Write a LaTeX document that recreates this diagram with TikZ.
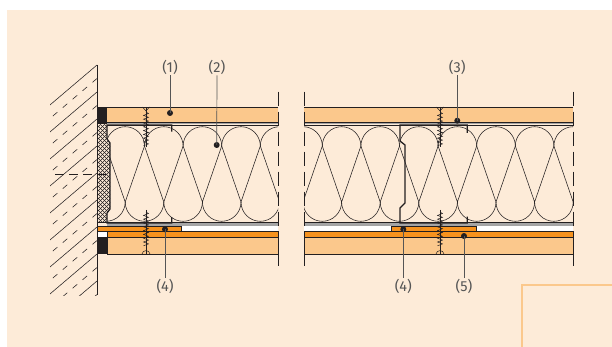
\documentclass[tikz,border=0pt]{standalone}
\usepackage{fontspec}
\setmainfont{Fira Sans}
\definecolor{paper}{RGB}{253,235,216}
\definecolor{board}{RGB}{251,200,140}
\definecolor{strip}{RGB}{246,146,30}
\definecolor{ink}{RGB}{35,31,32}
\definecolor{membrane}{RGB}{165,165,165}
\definecolor{labelgray}{RGB}{85,85,85}
\tikzset{
  layer/.style={draw=ink, line width=0.6pt},
  wool/.style={draw=ink, line width=0.55pt},
  flange/.style={draw=ink, line width=1.3pt, line join=miter},
  leader/.style={draw=labelgray, line width=0.7pt},
  callout/.style={text=labelgray, font=\fontsize{14.5}{16}\selectfont, inner sep=1pt},
  dot/.style={circle, fill=ink, inner sep=0pt, minimum size=6pt},
  breakline/.style={draw=ink, line width=0.7pt, dash pattern=on 14pt off 6pt},
  hatch/.style={draw=ink, line width=0.55pt},
  screwline/.style={draw=ink, line width=0.5pt},
}
% insulation batt symbol: x of first contact point, first and last index
\newcommand\woolrow[3]{%
  \foreach \k in {#2,...,#3}{%
    \pgfmathsetmacro\xa{#1+\k*38.6}%
    \draw[wool] (\xa,146) arc[start angle=180,end angle=360,radius=19.3];
    \draw[wool] (\xa,146) -- (\xa+19.3,202) -- (\xa+38.6,146);
    \draw[wool] (\xa+19.3,202) arc[start angle=180,end angle=0,radius=19.3];
  }}
% screw through the upper board
\newcommand\topscrew[1]{%
  \draw[screwline] (#1-3.5,107) -- (#1,111) -- (#1+3.5,107);
  \draw[screwline] (#1,107) -- (#1,147);
  \draw[screwline] (#1,112) \foreach \t in {0,...,8}{ -- (#1+2.5,113.5+\t*3.8) -- (#1-2.5,115.4+\t*3.8)};
}
% screw through the lower boards
\newcommand\botscrew[1]{%
  \draw[screwline] (#1,210) -- (#1,254);
  \draw[screwline] (#1,212) \foreach \t in {0,...,8}{ -- (#1+2.5,213.5+\t*3.8) -- (#1-2.5,215.4+\t*3.8)};
  \draw[screwline] (#1-4,254) .. controls (#1-3.5,249.5) and (#1+3.5,249.5) .. (#1+4,254);
}
\begin{document}
\begin{tikzpicture}[x=1pt,y=-1pt]
\useasboundingbox (0,0) rectangle (612,347);
\fill[white] (0,0) rectangle (612,347);
\fill[paper] (7,10) rectangle (612,347);
\draw[board, line width=2.5pt] (522,348) -- (522,285) -- (613,285);

% masonry wall
\begin{scope}
  \clip (50,65) rectangle (97,295);
  \foreach \i in {0,...,10}{
    \draw[hatch] (97,65+\i*27) -- ++(-60,51);
    \draw[hatch, dash pattern=on 6pt off 7pt] (97,78.5+\i*27) -- ++(-60,51);
  }
\end{scope}
\draw[ink, line width=0.8pt] (97,65) -- (97,295);

% layered ceiling, two sections
\foreach \a/\b in {107/278,304/573}{
  \fill[board] (\a,107) rectangle (\b,122.6);
  \draw[layer] (\a,107) -- (\b,107) (\a,122.6) -- (\b,122.6);
  \fill[membrane] (\a,122.9) rectangle (\b,124.4);
  \draw[layer] (\a,125) -- (\b,125);
  \draw[layer] (\a,222) -- (\b,222);
  \fill[membrane] (\a,222.5) rectangle (\b,225.8);
  \fill[white] (\a,225.8) rectangle (\b,231.7);
  \filldraw[fill=strip, draw=ink, line width=0.6pt] (\a,231.7) rectangle (\b,237.7);
  \filldraw[fill=board, draw=ink, line width=0.6pt] (\a,237.7) rectangle (\b,254);
}

% mineral wool
\begin{scope}
  \clip (107,125) rectangle (278,222);
  \woolrow{105.9}{-1}{4}
\end{scope}
\begin{scope}
  \clip (304,125) rectangle (573,222);
  \woolrow{322.3}{-1}{6}
\end{scope}

% resilient profiles below the wool
\filldraw[fill=strip, draw=ink, line width=0.6pt] (97,226.5) rectangle (181.7,231.7);
\filldraw[fill=strip, draw=ink, line width=0.6pt] (391.7,226.5) rectangle (476.7,231.7);

% end blocks at the wall
\fill[ink] (97,107) rectangle (107,124.4);
\filldraw[fill=white, draw=ink, line width=0.5pt] (97,231.7) rectangle (107,237.7);
\fill[ink] (97,237.7) rectangle (107,254);

% sealing strip between wall and wall channel
\begin{scope}
  \clip (97,124.4) -- (107,124.4) -- (107,139) -- (110,143) -- (110,209) -- (107,213) -- (107,222) -- (97,222) -- cycle;
  \fill[paper] (90,120) rectangle (115,225);
  \foreach \i in {0,...,36}{
    \draw[ink, line width=0.45pt] (90,110+\i*4) -- ++(25,25);
    \draw[ink, line width=0.45pt] (90,135+\i*4) -- ++(25,-25);
  }
\end{scope}
\draw[ink, line width=0.6pt] (97,124.4) -- (97,222) -- (107,222);

% wall channel
\draw[flange] (171.7,131.7) -- (171.7,125) -- (107,125) -- (107,139) -- (110,143) -- (110,209) -- (107,213) -- (107,223) -- (171.7,223) -- (171.7,217);
% ceiling channel
\draw[flange] (467.3,133) -- (467.3,125) -- (400,125) -- (400,141) -- (405,145) -- (405,203) -- (400,208) -- (400,223) -- (467.3,223) -- (467.3,216.7);

% wall joint line
\draw[ink, line width=0.6pt, dash pattern=on 9pt off 5pt] (55,174) -- (109,174);

% screws
\topscrew{146}
\botscrew{146}
\topscrew{440}
\botscrew{440}

% section breaks
\draw[breakline] (278,91.7) -- (278,271.7);
\draw[breakline] (304,91.7) -- (304,271.7);
\draw[breakline] (573,91.7) -- (573,271.7);

% callouts
\node[callout] (l1) at (170,67) {(1)};
\node[callout] (l2) at (217,67) {(2)};
\node[callout] (l3) at (457.3,67) {(3)};
\node[callout] (l4a) at (165,286) {(4)};
\node[callout] (l4b) at (403.3,286) {(4)};
\node[callout] (l5) at (464,286) {(5)};
\node[dot] (d1) at (170,113) {};
\node[dot] (d2) at (216.7,145) {};
\node[dot] (d3) at (457.3,120.7) {};
\node[dot] (d4a) at (165,229.3) {};
\node[dot] (d4b) at (403.3,229.3) {};
\node[dot] (d5) at (464,236) {};
\draw[leader] (l1.south) -- (d1.center);
\draw[leader] (l2.south) -- (d2.center);
\draw[leader] (l3.south) -- (d3.center);
\draw[leader] (d4a.center) -- (l4a.north);
\draw[leader] (d4b.center) -- (l4b.north);
\draw[leader] (d5.center) -- (l5.north);
\end{tikzpicture}
\end{document}
